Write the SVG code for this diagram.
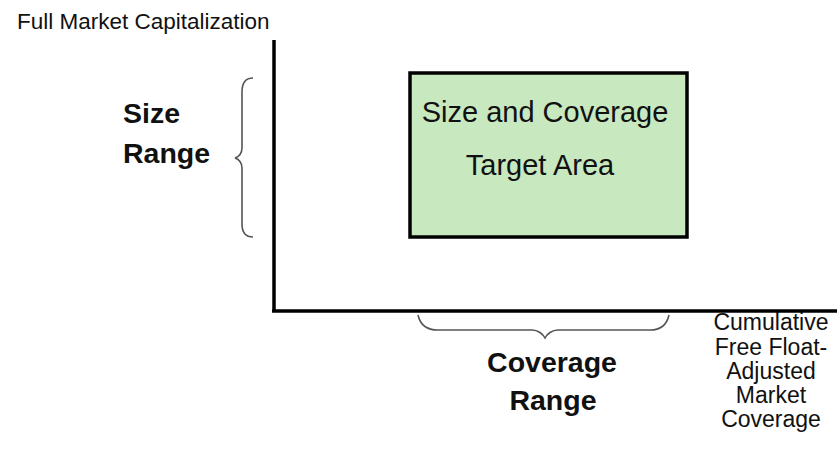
<svg xmlns="http://www.w3.org/2000/svg" width="837" height="453" viewBox="0 0 837 453">
<style>
.t{font-family:"Liberation Sans",Arial,sans-serif;fill:#111}
.b{font-weight:bold}
.brace{fill:none;stroke:#555;stroke-width:1.6}
.axis{stroke:#000;stroke-width:3.5;fill:none}
</style>
<rect width="837" height="453" fill="#fff"/>
<g id="y-axis-label"><text class="t" x="17" y="29" font-size="22.5">Full Market Capitalization</text></g>
<g id="size-range">
<text class="t b" x="123" y="123" font-size="28.5">Size</text>
<text class="t b" x="123" y="163" font-size="28.5">Range</text>
<path class="brace" d="M253,78 C246,78 242,82 242,92 L242,148 C242,153 239,157 235,158 C239,159 242,163 242,168 L242,224 C242,233 246,237 253,237"/>
</g>
<g id="target-area">
<rect x="410" y="73" width="277" height="164" fill="#c8e8c0" stroke="#000" stroke-width="3.5"/>
<text class="t" x="545" y="122" font-size="29" text-anchor="middle">Size and Coverage</text>
<text class="t" x="540" y="175" font-size="29" text-anchor="middle">Target Area</text>
</g>
<g id="x-axis-label">
<text class="t" x="771" y="330" font-size="23" text-anchor="middle">Cumulative</text>
<text class="t" x="771" y="355" font-size="23" text-anchor="middle">Free Float-</text>
<text class="t" x="771" y="379" font-size="23" text-anchor="middle">Adjusted</text>
<text class="t" x="771" y="403" font-size="23" text-anchor="middle">Market</text>
<text class="t" x="771" y="427" font-size="23" text-anchor="middle">Coverage</text>
</g>
<g id="coverage-range">
<path class="brace" d="M418,315 C420,324 426,330 438,330 L532,330 C538,330 543,334 545,338 C547,334 552,330 558,330 L650,330 C662,330 667,324 669,315"/>
<text class="t b" x="552" y="372" font-size="28.5" text-anchor="middle">Coverage</text>
<text class="t b" x="553" y="410" font-size="28.5" text-anchor="middle">Range</text>
</g>
<g id="connectors">
<line class="axis" x1="274" y1="40" x2="274" y2="311"/>
<line class="axis" x1="272" y1="311" x2="837" y2="311"/>
</g>
</svg>
